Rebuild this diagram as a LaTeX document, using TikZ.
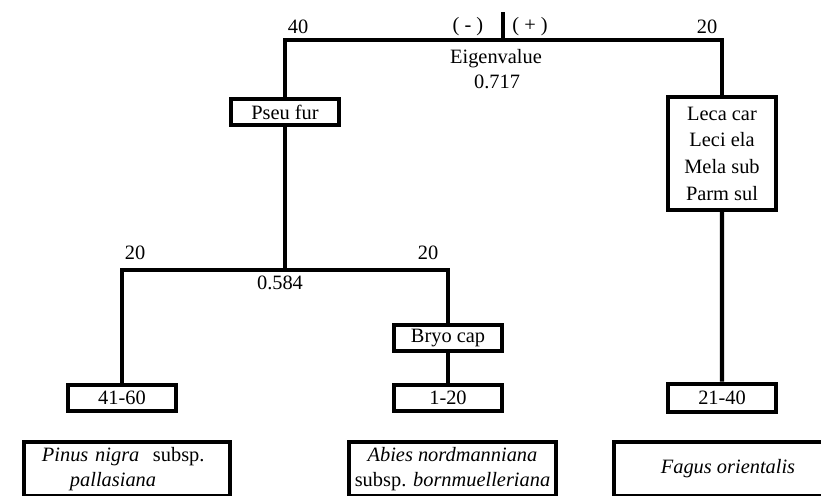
\documentclass[tikz,border=0pt]{standalone}
\usepackage{fontspec}
\setmainfont{Liberation Serif}
\usetikzlibrary{positioning}

\begin{document}
\begin{tikzpicture}[x=0.025cm,y=-0.025cm,on grid,
  font=\fontsize{14.5}{17.5}\selectfont,
  box/.style={draw,line width=3pt,inner sep=2pt,minimum width=2.7cm,minimum height=0.65cm},
  sp/.style={box,minimum height=1.35cm},
  lbl/.style={inner sep=0pt},
  conn/.style={line width=3pt}]
  \useasboundingbox (0,0) rectangle (821,495);
  \coordinate (stemtop) at (503,12);
  \coordinate (root) at (503,40);
  \coordinate (split) at (285,270);
  \node[box]           (pseu)  at (285,112)   {Pseu fur};
  \node[box,minimum height=2.825cm,align=center,
        font=\fontsize{14.5}{19}\selectfont]
                       (leca)  at (722,153.5) {Leca car\\Leci ela\\Mela sub\\Parm sul};
  \node[box]           (bryo)  at (448,338)   {Bryo cap};
  \node[box]           (n120)  [below=1.49cm of bryo]  {1-20};
  \node[box]           (n4160) [left=8.15cm of n120]   {41-60};
  \node[box,minimum height=0.7cm]
                       (n2140) [right=6.85cm of n120]  {21-40};
  \node[sp,minimum width=5.15cm,text width=4.25cm,align=left,inner xsep=0.45cm]
                       (pinus) at (127,469)   {\textit{Pinus nigra}~ subsp.\\\hspace*{0.7cm}\textit{pallasiana}};
  \node[sp,minimum width=5.175cm,align=center]
                       (abies) at (452.5,469) {\textit{Abies nordmanniana}\\subsp. \textit{bornmuelleriana}};
  \node[sp,minimum width=5.7cm]
                       (fagus) at (728,469)   {\textit{Fagus orientalis}};
  \node[lbl] (w40)   at (298,27)  {40};
  \node[lbl] (neg)   at (468,27)  {( - )};
  \node[lbl] (pos)   at (530,27)  {( + )};
  \node[lbl] (w20)   at (707,27)  {20};
  \node[lbl] (eig)   at (496,59)  {Eigenvalue};
  \node[lbl] (ev1)   at (497,82)  {0.717};
  \node[lbl] (w20l)  at (135,253) {20};
  \node[lbl] (w20r)  at (428,253) {20};
  \node[lbl] (ev2)   at (280,283) {0.584};
  \draw[conn] (stemtop) -- (root);
  \draw[conn] (pseu.north) |- (root) -| (leca.north);
  \draw[conn] (pseu.south) -- (split);
  \draw[conn] (n4160.north) |- (split) -| (bryo.north);
  \draw[conn] (bryo.south) -- (n120.north);
  \draw[conn] (leca.south) -- (n2140.north);
\end{tikzpicture}
\end{document}
